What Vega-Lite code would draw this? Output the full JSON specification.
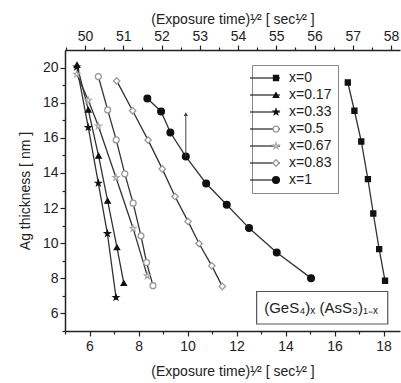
{
  "$schema": "https://vega.github.io/schema/vega-lite/v6.json",
  "width": 335,
  "height": 281,
  "autosize": "none",
  "padding": {"left": 65, "top": 50, "right": 1, "bottom": 52},
  "background": "white",
  "config": {
    "view": {"stroke": null},
    "font": "Liberation Sans",
    "axis": {
      "grid": false,
      "domainColor": "#222",
      "domainWidth": 1.5,
      "tickColor": "#222",
      "tickWidth": 1.2,
      "tickSize": 4,
      "labelOverlap": false,
      "labelFont": "Liberation Sans",
      "labelFontSize": 14,
      "labelColor": "#222",
      "titleFont": "Liberation Sans",
      "titleFontSize": 14,
      "titleFontWeight": "normal",
      "titleColor": "#222"
    }
  },
  "datasets": {
    "pts": [
      {"series": "x=0", "t": 16.54, "thick": 19.15},
      {"series": "x=0", "t": 16.81, "thick": 17.54},
      {"series": "x=0", "t": 17.09, "thick": 15.79},
      {"series": "x=0", "t": 17.36, "thick": 13.65},
      {"series": "x=0", "t": 17.58, "thick": 11.69},
      {"series": "x=0", "t": 17.82, "thick": 9.66},
      {"series": "x=0", "t": 18.06, "thick": 7.86},
      {"series": "x=0.17", "t": 5.49, "thick": 20.15},
      {"series": "x=0.17", "t": 5.95, "thick": 17.59},
      {"series": "x=0.17", "t": 6.37, "thick": 14.97},
      {"series": "x=0.17", "t": 6.74, "thick": 12.41},
      {"series": "x=0.17", "t": 7.12, "thick": 9.76},
      {"series": "x=0.17", "t": 7.40, "thick": 7.73},
      {"series": "x=0.33", "t": 5.48, "thick": 20.04},
      {"series": "x=0.33", "t": 5.95, "thick": 16.59},
      {"series": "x=0.33", "t": 6.36, "thick": 13.42},
      {"series": "x=0.33", "t": 6.73, "thick": 10.55},
      {"series": "x=0.33", "t": 7.08, "thick": 6.91},
      {"series": "x=0.5", "t": 6.36, "thick": 19.49},
      {"series": "x=0.5", "t": 6.74, "thick": 17.59},
      {"series": "x=0.5", "t": 7.09, "thick": 15.88},
      {"series": "x=0.5", "t": 7.44, "thick": 13.95},
      {"series": "x=0.5", "t": 7.78, "thick": 12.28},
      {"series": "x=0.5", "t": 8.10, "thick": 10.42},
      {"series": "x=0.5", "t": 8.33, "thick": 8.90},
      {"series": "x=0.5", "t": 8.59, "thick": 7.58},
      {"series": "x=0.67", "t": 5.48, "thick": 19.62},
      {"series": "x=0.67", "t": 5.95, "thick": 18.14},
      {"series": "x=0.67", "t": 6.36, "thick": 16.67},
      {"series": "x=0.67", "t": 7.08, "thick": 13.74},
      {"series": "x=0.67", "t": 7.78, "thick": 10.84},
      {"series": "x=0.67", "t": 8.36, "thick": 8.14},
      {"series": "x=0.83", "t": 7.11, "thick": 19.24},
      {"series": "x=0.83", "t": 7.76, "thick": 17.54},
      {"series": "x=0.83", "t": 8.39, "thick": 15.87},
      {"series": "x=0.83", "t": 8.97, "thick": 14.23},
      {"series": "x=0.83", "t": 9.49, "thick": 12.66},
      {"series": "x=0.83", "t": 10.02, "thick": 11.24},
      {"series": "x=0.83", "t": 10.47, "thick": 9.98},
      {"series": "x=0.83", "t": 10.99, "thick": 8.71},
      {"series": "x=0.83", "t": 11.42, "thick": 7.54},
      {"series": "x=1", "t": 8.36, "thick": 18.24},
      {"series": "x=1", "t": 8.92, "thick": 17.50},
      {"series": "x=1", "t": 9.30, "thick": 16.30},
      {"series": "x=1", "t": 9.93, "thick": 14.93},
      {"series": "x=1", "t": 10.76, "thick": 13.40},
      {"series": "x=1", "t": 11.60, "thick": 12.19},
      {"series": "x=1", "t": 12.51, "thick": 10.86},
      {"series": "x=1", "t": 13.64, "thick": 9.47},
      {"series": "x=1", "t": 15.04, "thick": 8.01}
    ],
    "arrow": [{"t": 9.93, "from": 14.93, "to": 17.35}],
    "formula": [{"x1": 12.82, "x2": 18.17, "y1": 5.40, "y2": 7.25, "xc": 15.45, "yc": 6.3, "label": "(GeS₄)ₓ (AsS₃)₁₋ₓ"}]
  },
  "layer": [
    {
      "data": {"name": "pts"},
      "mark": {"type": "line", "strokeWidth": 1.3},
      "encoding": {
        "x": {"field": "t", "type": "quantitative", "scale": {"domain": [5, 18.67], "nice": false, "zero": false},
          "axis": {"orient": "bottom", "values": [5,6,7,8,9,10,11,12,13,14,15,16,17,18],
            "labelExpr": "datum.value % 2 === 0 ? format(datum.value, 'd') : ''",
            "tickSize": {"condition": {"test": "datum.value % 2 === 0", "value": 5}, "value": 3},
            "labelPadding": 3, "titlePadding": 11,
            "title": "(Exposure time)¹⁄²  [ sec¹⁄² ]"}},
        "y": {"field": "thick", "type": "quantitative", "scale": {"domain": [5, 21], "nice": false, "zero": false},
          "axis": {"orient": "left", "values": [5,6,7,8,9,10,11,12,13,14,15,16,17,18,19,20],
            "labelExpr": "datum.value % 2 === 0 ? format(datum.value, 'd') : ''",
            "tickSize": {"condition": {"test": "datum.value % 2 === 0", "value": 5}, "value": 3},
            "labelPadding": 2, "titlePadding": 10,
            "title": "Ag thickness  [ nm ]"}},
        "color": {"field": "series", "type": "nominal",
          "scale": {"range": ["#333", "#333", "#333", "#333", "#333", "#333", "#333"]},
          "legend": {"orient": "none", "legendX": 187, "legendY": 15, "title": null,
            "symbolType": "M-7.5,0H7.5", "symbolSize": 16, "symbolStrokeWidth": 1.3,
            "labelFont": "Liberation Sans", "labelFontSize": 14, "labelColor": "#222", "labelOffset": 17,
            "padding": 6, "strokeColor": "#888", "fillColor": "white", "rowPadding": 3}}
      }
    },
    {
      "data": {"name": "pts"},
      "mark": {"type": "point", "filled": false, "opacity": 1, "strokeWidth": 1.3},
      "encoding": {
        "x": {"field": "t", "type": "quantitative", "axis": null},
        "y": {"field": "thick", "type": "quantitative", "axis": null},
        "shape": {"field": "series", "type": "nominal",
          "scale": {"domain": ["x=0", "x=0.17", "x=0.33", "x=0.5", "x=0.67", "x=0.83", "x=1"],
            "range": ["square", "triangle-up", "M0,-1L0.235,-0.324L0.951,-0.309L0.38,0.124L0.588,0.809L0,0.4L-0.588,0.809L-0.38,0.124L-0.951,-0.309L-0.235,-0.324Z", "circle", "M0,-1L0.235,-0.324L0.951,-0.309L0.38,0.124L0.588,0.809L0,0.4L-0.588,0.809L-0.38,0.124L-0.951,-0.309L-0.235,-0.324Z", "diamond", "circle"]},
          "legend": {"orient": "none", "legendX": 198, "legendY": 15, "title": null, "labelExpr": "''",
            "labelFont": "Liberation Sans", "labelFontSize": 14, "labelOffset": 17, "padding": 6, "rowPadding": 3, "symbolStrokeWidth": 1.3}},
        "fill": {"field": "series", "type": "nominal",
          "scale": {"domain": ["x=0", "x=0.17", "x=0.33", "x=0.5", "x=0.67", "x=0.83", "x=1"],
            "range": ["#111", "#111", "#111", "white", "white", "white", "#111"]},
          "legend": {"orient": "none", "legendX": 198, "legendY": 15, "title": null, "labelExpr": "''",
            "labelFont": "Liberation Sans", "labelFontSize": 14, "labelOffset": 17, "padding": 6, "rowPadding": 3, "symbolStrokeWidth": 1.3}},
        "stroke": {"field": "series", "type": "nominal",
          "scale": {"domain": ["x=0", "x=0.17", "x=0.33", "x=0.5", "x=0.67", "x=0.83", "x=1"],
            "range": ["#111", "#111", "#111", "#999", "#aaa", "#999", "#111"]},
          "legend": {"orient": "none", "legendX": 198, "legendY": 15, "title": null, "labelExpr": "''",
            "labelFont": "Liberation Sans", "labelFontSize": 14, "labelOffset": 17, "padding": 6, "rowPadding": 3, "symbolStrokeWidth": 1.3}},
        "size": {"field": "series", "type": "nominal",
          "scale": {"domain": ["x=0", "x=0.17", "x=0.33", "x=0.5", "x=0.67", "x=0.83", "x=1"],
            "range": [25, 45, 30, 45, 50, 55, 70]},
          "legend": {"orient": "none", "legendX": 198, "legendY": 15, "title": null, "labelExpr": "''",
            "labelFont": "Liberation Sans", "labelFontSize": 14, "labelOffset": 17, "padding": 6, "rowPadding": 3, "symbolStrokeWidth": 1.3}}
      }
    },
    {
      "data": {"name": "arrow"},
      "mark": {"type": "rule", "color": "#444", "strokeWidth": 1},
      "encoding": {
        "x": {"field": "t", "type": "quantitative", "axis": null},
        "y": {"field": "from", "type": "quantitative", "axis": null},
        "y2": {"field": "to"}
      }
    },
    {
      "data": {"name": "arrow"},
      "mark": {"type": "point", "shape": "triangle-up", "filled": true, "color": "#444", "size": 18, "opacity": 1},
      "encoding": {
        "x": {"field": "t", "type": "quantitative",
          "axis": {"orient": "top",
            "values": [5.035, 5.816, 6.597, 7.377, 8.158, 8.938, 9.719, 10.5, 11.28, 12.061, 12.841, 13.622, 14.403, 15.183, 15.964, 16.744, 17.525, 18.306],
            "labelExpr": "abs((datum.value - 5.8163) / 1.56122 - round((datum.value - 5.8163) / 1.56122)) < 0.1 ? format(50 + round((datum.value - 5.8163) / 1.56122), 'd') : ''",
            "tickSize": {"condition": {"test": "abs((datum.value - 5.8163) / 1.56122 - round((datum.value - 5.8163) / 1.56122)) < 0.1", "value": 5}, "value": 3},
            "labelPadding": 2, "titlePadding": 3,
            "title": "(Exposure time)¹⁄²  [ sec¹⁄² ]"}},
        "y": {"field": "to", "type": "quantitative", "axis": null}
      }
    },
    {
      "data": {"name": "formula"},
      "mark": {"type": "rect", "fill": "white", "stroke": "#555", "strokeWidth": 1.2},
      "encoding": {
        "x": {"field": "x1", "type": "quantitative", "axis": null},
        "x2": {"field": "x2"},
        "y": {"field": "y1", "type": "quantitative", "axis": null},
        "y2": {"field": "y2"}
      }
    },
    {
      "data": {"name": "formula"},
      "mark": {"type": "text", "font": "Liberation Sans", "fontSize": 15, "color": "#222", "align": "center", "baseline": "middle"},
      "encoding": {
        "x": {"field": "xc", "type": "quantitative", "axis": null},
        "y": {"field": "yc", "type": "quantitative", "axis": null},
        "text": {"field": "label"}
      }
    }
  ],
  "resolve": {"axis": {"x": "independent", "y": "independent"}}
}
